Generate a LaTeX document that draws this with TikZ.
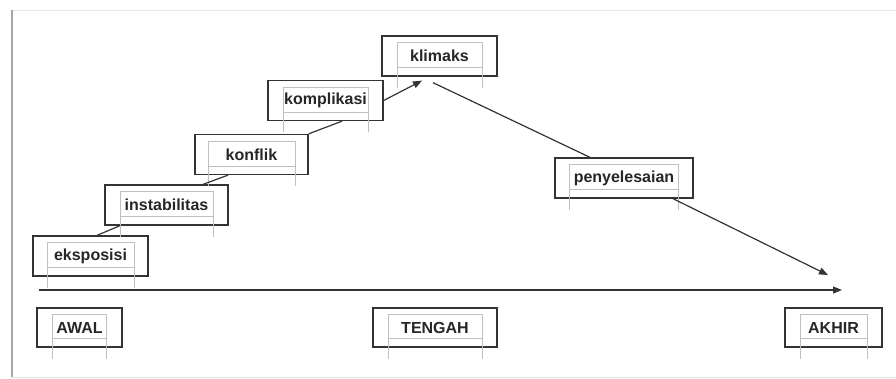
\documentclass[tikz,border=0pt]{standalone}
\usepackage{fontspec}
\setmainfont{Liberation Sans}
\usetikzlibrary{arrows.meta}

\begin{document}
\begin{tikzpicture}[x=1pt,y=-1pt,
	stage/.style={draw=black!80,line width=1.3pt,minimum height=40pt,inner sep=0pt,font=\fontsize{16}{19}\selectfont\bfseries,text=black!85},
	ghost/.style={draw=black!25,line width=0.6pt},
	link/.style={draw=black!80,line width=1.2pt},
	tip/.style={-{Triangle[length=9pt,width=7pt]}}]
	\useasboundingbox (0,0) rectangle (896,378);
	
	% Frame
	\draw[black!10,line width=1pt] (12,10) -- (896,10);
	\draw[black!10,line width=1pt] (12,377) -- (896,377);
	\draw[black!35,line width=2pt] (12,377) -- (12,10);
	
	% Rising stages
	\node[stage,minimum width=115pt] (eksposisi) at (90.5,256) {eksposisi};
	\node[stage,minimum width=123pt] (instabilitas) at (166.5,205) {instabilitas};
	\node[stage,minimum width=113pt] (konflik) at (251.5,154.5) {konflik};
	\node[stage,minimum width=115pt] (komplikasi) at (325.5,100.5) {komplikasi};
	
	% Peak and falling stage
	\node[stage,minimum width=115pt] (klimaks) at (439.5,56) {klimaks};
	\node[stage,minimum width=138pt] (penyelesaian) at (624,178) {penyelesaian};
	
	% Time line
	\coordinate (axisstart) at (39,290);
	\coordinate (axisend) at (842,290);
	\coordinate (endtip) at (828,275);
	\node[stage,minimum width=85pt,minimum height=39pt] (awal) at (79.5,327.5) {AWAL};
	\node[stage,minimum width=124pt,minimum height=39pt] (tengah) at (435,327.5) {TENGAH};
	\node[stage,minimum width=97pt,minimum height=39pt] (akhir) at (833.5,327.5) {AKHIR};
	
	% Faint text frames
	\foreach \n/\w in {eksposisi/43.5,instabilitas/46.5,konflik/43.5,komplikasi/42.5,klimaks/42.5,penyelesaian/54.5,awal/27,tengah/47,akhir/33.5}{
		\draw[ghost] ([xshift=-\w pt,yshift=-7pt]\n.north) rectangle ([xshift=\w pt,yshift=9pt]\n.south);
		\draw[ghost] ([xshift=-\w pt,yshift=9pt]\n.south) -- ([xshift=-\w pt,yshift=-11pt]\n.south);
		\draw[ghost] ([xshift=\w pt,yshift=9pt]\n.south) -- ([xshift=\w pt,yshift=-11pt]\n.south);
	}
	
	% Connectors
	\draw[link] ([xshift=6.5pt]eksposisi.north) -- ([xshift=-46.5pt]instabilitas.south);
	\draw[link] ([xshift=36.5pt]instabilitas.north) -- ([xshift=-23.5pt]konflik.south);
	\draw[link] (konflik.north east) -- ([xshift=16.5pt]komplikasi.south);
	\draw[link,tip] (komplikasi.east) -- ([xshift=-17.5pt,yshift=-4pt]klimaks.south);
	\draw[link] ([xshift=-6.5pt,yshift=-6pt]klimaks.south) -- ([xshift=-34pt]penyelesaian.north);
	\draw[link,tip] ([xshift=49pt]penyelesaian.south) -- (endtip);
	\draw[link,tip] (axisstart) -- (axisend);
\end{tikzpicture}
\end{document}
